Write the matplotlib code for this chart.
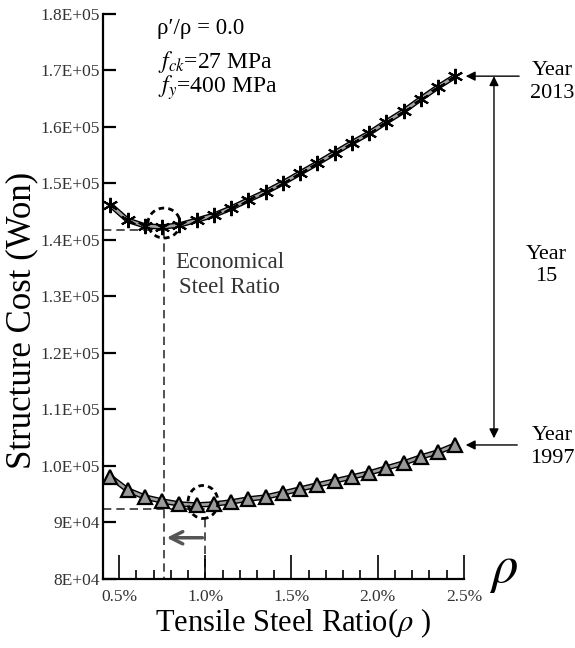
import matplotlib
matplotlib.use("Agg")
import matplotlib.pyplot as plt
from matplotlib.patches import Ellipse

plt.rcParams['font.family'] = ['Liberation Serif', 'DejaVu Serif']
plt.rcParams['mathtext.fontset'] = 'stix'

# steel ratio (%) and structure cost (Won)
rho = [0.45, 0.55, 0.65, 0.75, 0.85, 0.95, 1.05, 1.15, 1.25, 1.35, 1.45,
       1.55, 1.65, 1.75, 1.85, 1.95, 2.05, 2.15, 2.25, 2.35, 2.45]
cost_2013 = [146200, 143500, 142500, 142300, 142650, 143500, 144400, 145650,
             147100, 148500, 150100, 151850, 153600, 155400, 157200, 158900,
             160900, 162800, 165000, 167100, 169000]
cost_1997 = [98050, 95750, 94500, 93800, 93270, 93100, 93270, 93630, 94160,
             94500, 95200, 95930, 96640, 97350, 98050, 98760, 99650, 100530,
             101590, 102480, 103720]

econ_rho_2013 = 0.76
econ_cost_2013 = 141800
econ_rho_1997 = 1.0
econ_cost_1997 = 92400

yticks = [80000, 90000, 100000, 110000, 120000, 130000, 140000, 150000,
          160000, 170000, 180000]
ytick_labels = ["8E+04", "9E+04", "1.0E+05", "1.1E+05", "1.2E+05", "1.3E+05",
                "1.4E+05", "1.5E+05", "1.6E+05", "1.7E+05", "1.8E+05"]
xticks = [0.5, 1.0, 1.5, 2.0, 2.5]
xtick_labels = ["0.5%", "1.0%", "1.5%", "2.0%", "2.5%"]

fig = plt.figure(figsize=(5.75, 6.48), dpi=100)
ax = fig.add_axes([0.1791, 0.1065, 0.6278, 0.8719])

# curves: black outline with gray core
for c in (cost_2013, cost_1997):
    ax.plot(rho, c, color='black', lw=4.0, solid_capstyle='round', zorder=2)
    ax.plot(rho, c, color='#a0a0a0', lw=2.0, solid_capstyle='round', zorder=3)
ax.plot(rho, cost_2013, ls='none', marker=(6, 2, 0), ms=11, mec='black',
        mew=1.5, zorder=4)
ax.plot(rho, cost_1997, ls='none', marker='^', ms=10, mfc='#999999',
        mec='black', mew=1.6, zorder=4)

xmin = 0.407
dash = dict(color='#333333', lw=1.2, ls=(0, (5, 3)), zorder=1)
ax.plot([xmin, econ_rho_2013], [econ_cost_2013, econ_cost_2013], **dash)
ax.plot([econ_rho_2013, econ_rho_2013], [econ_cost_2013, 80000], **dash)
ax.plot([xmin, econ_rho_1997], [econ_cost_1997, econ_cost_1997], **dash)
ax.plot([econ_rho_1997, econ_rho_1997], [econ_cost_1997 - 1800, 80000], **dash)

for cx, cy, w, h in [(0.761, 143000, 0.186, 5300), (0.987, 93630, 0.174, 5840)]:
    ax.add_patch(Ellipse((cx, cy), w, h, fill=False, ec='black', lw=2,
                         ls=(0, (2, 1.5)), zorder=5))

ax.annotate('', xy=(econ_rho_2013, 87300), xytext=(econ_rho_1997, 87300),
            arrowprops=dict(arrowstyle='->', color='#555555', lw=2.5,
                            mutation_scale=22))

ax.text(1.143, 133800, "Economical\nSteel Ratio", ha='center', va='center',
        fontsize=16.5, linespacing=1.2, color='#333333')

ax.text(0.722, 177500, "ρ\u2032/ρ = 0.0", ha='left', va='center',
        fontsize=16.5, family=['Liberation Serif'])
ax.text(0.728, 171500, "$f_{ck}$=27 MPa", ha='left', va='center',
        fontsize=17)
ax.text(0.728, 166900, "$f_{y}$=400 MPa", ha='left', va='center',
        fontsize=17)

# right side annotations
ax.annotate('', xy=(2.494, cost_2013[-1]), xytext=(2.836, cost_2013[-1]),
            arrowprops=dict(arrowstyle='-|>', color='black', lw=1,
                            mutation_scale=14), annotation_clip=False)
ax.annotate('', xy=(2.494, cost_1997[-1]), xytext=(2.825, cost_1997[-1]),
            arrowprops=dict(arrowstyle='-|>', color='black', lw=1,
                            mutation_scale=14), annotation_clip=False)
ax.annotate('', xy=(2.674, 169000), xytext=(2.674, 104900),
            arrowprops=dict(arrowstyle='<|-|>', color='black', lw=1,
                            mutation_scale=14, shrinkA=0, shrinkB=0),
            annotation_clip=False)
ax.text(3.01, 168000, "Year\n2013", ha='center', va='center', fontsize=16,
        linespacing=1.25, clip_on=False)
ax.text(2.975, 135500, "Year\n15", ha='center', va='center', fontsize=16,
        linespacing=1.25, clip_on=False)
ax.text(3.01, 103400, "Year\n1997", ha='center', va='center', fontsize=16,
        linespacing=1.25, clip_on=False)
ax.text(2.73, 81500, r"$\rho$", ha='center', va='center', fontsize=38,
        clip_on=False)

ax.set_xlim(xmin, 2.5)
ax.set_ylim(80000, 180000)
ax.set_xticks(xticks)
ax.set_xticklabels(xtick_labels)
ax.set_xticks([x / 10 for x in range(5, 26)], minor=True)
ax.set_yticks(yticks)
ax.set_yticklabels(ytick_labels)

for s in ('top', 'right'):
    ax.spines[s].set_visible(False)
for s in ('left', 'bottom'):
    ax.spines[s].set_linewidth(1.6)
ax.tick_params(axis='y', direction='in', length=9.5, width=1.6, labelsize=12.5,
               pad=2, labelcolor='#333333')
ax.tick_params(axis='x', which='major', direction='in', length=17, width=1.2,
               labelsize=12.5, pad=7, labelcolor='#333333')
ax.tick_params(axis='x', which='minor', direction='in', length=6.5, width=1.2)

fig.text(293 / 575, 1 - 623 / 648, r"Tensile Steel Ratio($\rho$ )",
         ha='center', va='center', fontsize=22)
fig.text(22 / 575, 1 - 320 / 648, "Structure Cost (Won)", rotation=90,
         ha='center', va='center', fontsize=25)

fig.savefig("out.png", dpi=100)
